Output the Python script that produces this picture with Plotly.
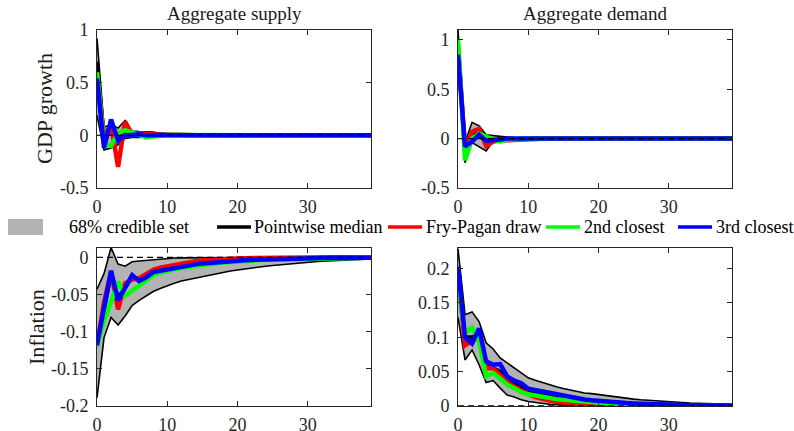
import plotly.graph_objects as go

W, H = 794, 431
horizon = list(range(40))

# ---------------- GDP growth, Aggregate supply ----------------
gdp_as_lower = [0.19, -0.14, -0.12, -0.09, -0.03, -0.02, -0.02, -0.015, -0.01, -0.008,
                -0.006, -0.005, -0.004, -0.003, -0.003, -0.002, -0.002, -0.002, -0.001, -0.001,
                -0.001, -0.001, -0.001, -0.001, 0.0, 0.0, 0.0, 0.0, 0.0, 0.0,
                0.0, 0.0, 0.0, 0.0, 0.0, 0.0, 0.0, 0.0, 0.0, 0.0]
gdp_as_upper = [0.92, 0.08, 0.10, 0.07, 0.14, 0.04, 0.035, 0.035, 0.03, 0.02,
                0.015, 0.012, 0.01, 0.008, 0.007, 0.006, 0.005, 0.004, 0.004, 0.003,
                0.003, 0.003, 0.002, 0.002, 0.002, 0.002, 0.002, 0.001, 0.001, 0.001,
                0.001, 0.001, 0.001, 0.001, 0.001, 0.001, 0.001, 0.001, 0.001, 0.001]
gdp_as_median = [0.70, -0.05, 0.06, -0.01, 0.05, 0.02, 0.01, 0.01, 0.008, 0.005,
                 0.004, 0.003, 0.002, 0.002, 0.001, 0.001, 0.001, 0.001, 0.0, 0.0,
                 0.0, 0.0, 0.0, 0.0, 0.0, 0.0, 0.0, 0.0, 0.0, 0.0,
                 0.0, 0.0, 0.0, 0.0, 0.0, 0.0, 0.0, 0.0, 0.0, 0.0]
gdp_as_fp = [0.57, -0.02, 0.10, -0.30, 0.13, 0.0, 0.02, 0.01, 0.01, 0.005,
             0.002, 0.001, 0.001, 0.0, 0.0, 0.0, 0.0, 0.0, 0.0, 0.0,
             0.0, 0.0, 0.0, 0.0, 0.0, 0.0, 0.0, 0.0, 0.0, 0.0,
             0.0, 0.0, 0.0, 0.0, 0.0, 0.0, 0.0, 0.0, 0.0, 0.0]
gdp_as_2nd = [0.60, -0.08, -0.10, 0.02, 0.05, 0.03, 0.0, -0.02, -0.01, 0.0,
              0.003, 0.002, 0.001, 0.001, 0.0, 0.0, 0.0, 0.0, 0.0, 0.0,
              0.0, 0.0, 0.0, 0.0, 0.0, 0.0, 0.0, 0.0, 0.0, 0.0,
              0.0, 0.0, 0.0, 0.0, 0.0, 0.0, 0.0, 0.0, 0.0, 0.0]
gdp_as_3rd = [0.54, -0.12, 0.15, -0.05, 0.0, 0.01, 0.01, 0.0, 0.005, 0.002,
              0.001, 0.0, 0.0, 0.0, 0.0, 0.0, 0.0, 0.0, 0.0, 0.0,
              0.0, 0.0, 0.0, 0.0, 0.0, 0.0, 0.0, 0.0, 0.0, 0.0,
              0.0, 0.0, 0.0, 0.0, 0.0, 0.0, 0.0, 0.0, 0.0, 0.0]

# ---------------- GDP growth, Aggregate demand ----------------
gdp_ad_lower = [0.85, -0.245, -0.04, -0.08, -0.125, -0.025, -0.03, -0.02, -0.015, -0.01,
                -0.008, -0.006, -0.005, -0.004, -0.003, -0.002, -0.002, -0.001, -0.001, -0.001,
                0.0, 0.0, 0.0, 0.0, 0.0, 0.0, 0.0, 0.0, 0.0, 0.0,
                0.0, 0.0, 0.0, 0.0, 0.0, 0.0, 0.0, 0.0, 0.0, 0.0]
gdp_ad_upper = [1.10, -0.04, 0.165, 0.13, 0.04, 0.03, 0.02, 0.015, 0.01, 0.008,
                0.006, 0.005, 0.004, 0.003, 0.002, 0.002, 0.001, 0.001, 0.001, 0.001,
                0.0, 0.0, 0.0, 0.0, 0.0, 0.0, 0.0, 0.0, 0.0, 0.0,
                0.0, 0.0, 0.0, 0.0, 0.0, 0.0, 0.0, 0.0, 0.0, 0.0]
gdp_ad_median = [0.95, -0.12, 0.05, 0.04, -0.03, -0.01, -0.01, -0.005, -0.003, -0.002,
                 -0.001, -0.001, 0.0, 0.0, 0.0, 0.0, 0.0, 0.0, 0.0, 0.0,
                 0.0, 0.0, 0.0, 0.0, 0.0, 0.0, 0.0, 0.0, 0.0, 0.0,
                 0.0, 0.0, 0.0, 0.0, 0.0, 0.0, 0.0, 0.0, 0.0, 0.0]
gdp_ad_fp = [0.95, -0.12, 0.07, 0.10, -0.075, -0.03, -0.02, -0.015, -0.01, -0.005,
             -0.003, -0.002, -0.001, 0.0, 0.0, 0.0, 0.0, 0.0, 0.0, 0.0,
             0.0, 0.0, 0.0, 0.0, 0.0, 0.0, 0.0, 0.0, 0.0, 0.0,
             0.0, 0.0, 0.0, 0.0, 0.0, 0.0, 0.0, 0.0, 0.0, 0.0]
gdp_ad_2nd = [1.00, -0.22, 0.0, 0.05, 0.02, 0.0, -0.03, -0.01, -0.005, 0.0,
              0.0, 0.0, 0.0, 0.0, 0.0, 0.0, 0.0, 0.0, 0.0, 0.0,
              0.0, 0.0, 0.0, 0.0, 0.0, 0.0, 0.0, 0.0, 0.0, 0.0,
              0.0, 0.0, 0.0, 0.0, 0.0, 0.0, 0.0, 0.0, 0.0, 0.0]
gdp_ad_3rd = [0.85, -0.08, -0.03, 0.04, -0.02, -0.02, -0.01, 0.0, 0.0, 0.0,
              0.0, 0.0, 0.0, 0.0, 0.0, 0.0, 0.0, 0.0, 0.0, 0.0,
              0.0, 0.0, 0.0, 0.0, 0.0, 0.0, 0.0, 0.0, 0.0, 0.0,
              0.0, 0.0, 0.0, 0.0, 0.0, 0.0, 0.0, 0.0, 0.0, 0.0]

# ---------------- Inflation, Aggregate supply ----------------
infl_as_lower = [-0.189, -0.108, -0.081, -0.091, -0.079, -0.065, -0.058, -0.052, -0.046, -0.042,
                 -0.038, -0.035, -0.032, -0.030, -0.028, -0.026, -0.024, -0.022, -0.020, -0.0185,
                 -0.017, -0.0155, -0.014, -0.013, -0.012, -0.011, -0.010, -0.0091, -0.0082, -0.0073,
                 -0.0065, -0.0059, -0.0053, -0.0048, -0.0043, -0.0038, -0.0034, -0.0030, -0.0026, -0.0022]
infl_as_upper = [-0.043, -0.022, 0.013, -0.009, -0.012, -0.006, -0.005, -0.004, -0.003, -0.002,
                 -0.0015, -0.001, -0.0008, -0.0006, -0.0005, -0.0004, -0.0003, -0.0003, -0.0002, -0.0002,
                 -0.0002, -0.0001, -0.0001, -0.0001, -0.0001, -0.0001, 0.0, 0.0, 0.0, 0.0,
                 0.0, 0.0, 0.0, 0.0, 0.0, 0.0, 0.0, 0.0, 0.0, 0.0]
infl_as_median = [-0.118, -0.068, -0.022, -0.055, -0.040, -0.026, -0.031, -0.026, -0.020, -0.018,
                  -0.016, -0.014, -0.012, -0.011, -0.0095, -0.0085, -0.0075, -0.0066, -0.0058, -0.0051,
                  -0.0045, -0.004, -0.0035, -0.0031, -0.0027, -0.0024, -0.0021, -0.0019, -0.0017, -0.0015,
                  -0.0013, -0.0012, -0.0011, -0.001, -0.0009, -0.0008, -0.0007, -0.0007, -0.0006, -0.0006]
infl_as_fp = [-0.12, -0.06, -0.02, -0.07, -0.035, -0.030, -0.028, -0.022, -0.017, -0.014,
              -0.012, -0.010, -0.008, -0.0065, -0.0053, -0.0043, -0.0035, -0.0028, -0.0022, -0.0018,
              -0.0015, -0.0012, -0.001, -0.0008, -0.0006, -0.0005, -0.0004, -0.0003, -0.0002, -0.0002,
              -0.0001, -0.0001, -0.0001, 0.0, 0.0, 0.0, 0.0, 0.0, 0.0, 0.0]
infl_as_2nd = [-0.12, -0.085, -0.06, -0.033, -0.052, -0.045, -0.037, -0.030, -0.024, -0.021,
               -0.018, -0.016, -0.0145, -0.013, -0.0115, -0.0102, -0.009, -0.008, -0.007, -0.0062,
               -0.0055, -0.0049, -0.0043, -0.0038, -0.0034, -0.003, -0.0027, -0.0024, -0.0021, -0.0019,
               -0.0017, -0.0015, -0.0013, -0.0012, -0.0011, -0.001, -0.0009, -0.0008, -0.0007, -0.0007]
infl_as_3rd = [-0.118, -0.07, -0.018, -0.058, -0.042, -0.024, -0.032, -0.027, -0.020, -0.018,
               -0.016, -0.014, -0.012, -0.011, -0.0095, -0.0085, -0.0075, -0.0066, -0.0058, -0.0051,
               -0.0045, -0.004, -0.0035, -0.0031, -0.0027, -0.0024, -0.0021, -0.0019, -0.0017, -0.0015,
               -0.0013, -0.0012, -0.0011, -0.001, -0.0009, -0.0008, -0.0007, -0.0007, -0.0006, -0.0006]

# ---------------- Inflation, Aggregate demand ----------------
infl_ad_lower = [0.129, 0.067, 0.0815, 0.060, 0.034, 0.037, 0.026, 0.016, 0.013, 0.009,
                 0.0065, 0.005, 0.0035, 0.0025, 0.0018, 0.0012, 0.0008, 0.0005, 0.0003, 0.0002,
                 0.0001, 0.0, 0.0, 0.0, 0.0, 0.0, 0.0, 0.0, 0.0, 0.0,
                 0.0, 0.0, 0.0, 0.0, 0.0, 0.0, 0.0, 0.0, 0.0, 0.0]
infl_ad_upper = [0.229, 0.133, 0.137, 0.123, 0.092, 0.083, 0.070, 0.063, 0.0556, 0.048,
                 0.041, 0.0375, 0.034, 0.031, 0.028, 0.0255, 0.023, 0.021, 0.019, 0.018,
                 0.0165, 0.015, 0.0135, 0.012, 0.011, 0.010, 0.009, 0.0082, 0.0074, 0.0067,
                 0.006, 0.0054, 0.0049, 0.0044, 0.004, 0.0036, 0.0032, 0.0029, 0.0026, 0.0023]
infl_ad_median = [0.19, 0.10, 0.10, 0.105, 0.058, 0.055, 0.050, 0.038, 0.032, 0.027,
                  0.022, 0.019, 0.017, 0.015, 0.013, 0.0115, 0.010, 0.0088, 0.0077, 0.0067,
                  0.0058, 0.005, 0.0044, 0.0038, 0.0033, 0.0029, 0.0025, 0.0022, 0.0019, 0.0017,
                  0.0015, 0.0013, 0.0011, 0.001, 0.0009, 0.0008, 0.0007, 0.0006, 0.0005, 0.0005]
infl_ad_fp = [0.200, 0.088, 0.095, 0.100, 0.055, 0.055, 0.045, 0.035, 0.028, 0.022,
              0.017, 0.013, 0.010, 0.0078, 0.006, 0.0046, 0.0035, 0.0027, 0.002, 0.0015,
              0.0011, 0.0008, 0.0006, 0.0005, 0.0004, 0.0003, 0.0002, 0.0002, 0.0001, 0.0001,
              0.0001, 0.0, 0.0, 0.0, 0.0, 0.0, 0.0, 0.0, 0.0, 0.0]
infl_ad_2nd = [0.178, 0.106, 0.114, 0.094, 0.043, 0.048, 0.040, 0.031, 0.026, 0.020,
               0.017, 0.015, 0.013, 0.0115, 0.010, 0.009, 0.008, 0.007, 0.006, 0.0052,
               0.0045, 0.0039, 0.0034, 0.0029, 0.0025, 0.0022, 0.0019, 0.0016, 0.0014, 0.0012,
               0.001, 0.0009, 0.0008, 0.0007, 0.0006, 0.0005, 0.0005, 0.0004, 0.0004, 0.0003]
infl_ad_3rd = [0.203, 0.100, 0.091, 0.113, 0.065, 0.060, 0.061, 0.043, 0.037, 0.033,
               0.025, 0.023, 0.021, 0.019, 0.0165, 0.0145, 0.0127, 0.011, 0.0095, 0.0083,
               0.0072, 0.0063, 0.0055, 0.0048, 0.0042, 0.0037, 0.0032, 0.0028, 0.0024, 0.0021,
               0.0018, 0.0016, 0.0014, 0.0012, 0.0011, 0.001, 0.0009, 0.0008, 0.0007, 0.0006]

panel_titles = ["Aggregate supply", "Aggregate demand"]
row_labels = ["GDP growth", "Inflation"]
legend_labels = ["68% credible set", "Pointwise median", "Fry-Pagan draw", "2nd closest", "3rd closest"]
x_ticks = [0, 10, 20, 30]
y_ticks_gdp = [-0.5, 0, 0.5, 1]
y_ticklabels_gdp = ["-0.5", "0", "0.5", "1"]
y_ticks_infl_as = [-0.2, -0.15, -0.1, -0.05, 0]
y_ticklabels_infl_as = ["-0.2", "-0.15", "-0.1", "-0.05", "0"]
y_ticks_infl_ad = [0, 0.05, 0.1, 0.15, 0.2]
y_ticklabels_infl_ad = ["0", "0.05", "0.1", "0.15", "0.2"]

FONT = "Liberation Serif, Times New Roman, serif"
AXC = "#262626"
BAND = "#b3b3b3"
COLORS = {"median": "#000000", "fp": "#ff0000", "2nd": "#00ff00", "3rd": "#0000ff"}

panels = [
    dict(xa="x", ya="y", lower=gdp_as_lower, upper=gdp_as_upper, median=gdp_as_median,
         fp=gdp_as_fp, s2=gdp_as_2nd, s3=gdp_as_3rd),
    dict(xa="x2", ya="y2", lower=gdp_ad_lower, upper=gdp_ad_upper, median=gdp_ad_median,
         fp=gdp_ad_fp, s2=gdp_ad_2nd, s3=gdp_ad_3rd),
    dict(xa="x3", ya="y3", lower=infl_as_lower, upper=infl_as_upper, median=infl_as_median,
         fp=infl_as_fp, s2=infl_as_2nd, s3=infl_as_3rd),
    dict(xa="x4", ya="y4", lower=infl_ad_lower, upper=infl_ad_upper, median=infl_ad_median,
         fp=infl_ad_fp, s2=infl_ad_2nd, s3=infl_ad_3rd),
]

fig = go.Figure()
for p in panels:
    for arr in (p["lower"], p["upper"], p["median"], p["fp"], p["s2"], p["s3"]):
        assert len(arr) == len(horizon)
    common = dict(x=horizon, xaxis=p["xa"], yaxis=p["ya"], mode="lines",
                  showlegend=False, hoverinfo="skip")
    fig.add_trace(go.Scatter(y=p["lower"], line=dict(color="black", width=1.6), **common))
    fig.add_trace(go.Scatter(y=p["upper"], line=dict(color="black", width=1.6),
                             fill="tonexty", fillcolor=BAND, **common))
    fig.add_trace(go.Scatter(y=p["median"], line=dict(color=COLORS["median"], width=4), **common))
    fig.add_trace(go.Scatter(y=p["fp"], line=dict(color=COLORS["fp"], width=4.5), **common))
    fig.add_trace(go.Scatter(y=p["s2"], line=dict(color=COLORS["2nd"], width=4.5), **common))
    fig.add_trace(go.Scatter(y=p["s3"], line=dict(color=COLORS["3rd"], width=4.5), **common))
    fig.add_trace(go.Scatter(y=[0 for _ in horizon], line=dict(color="black", width=1.3, dash="6px,4px"),
                             **common))

def px_x(v):
    return v / W

def px_y(v):
    return 1 - v / H

xd_left = [px_x(97), px_x(371)]
xd_right = [px_x(458), px_x(732)]
yd_top = [px_y(188), px_y(30)]
yd_bot = [px_y(406), px_y(248)]

def xaxis(domain, anchor):
    return dict(domain=domain, anchor=anchor, range=[0, 39], tickvals=x_ticks,
                ticktext=[str(t) for t in x_ticks], automargin=False,
                showline=True, linecolor=AXC, linewidth=1, mirror="ticks",
                ticks="inside", ticklen=5, tickwidth=1, tickcolor=AXC,
                showgrid=False, zeroline=False, ticklabelstandoff=2,
                tickfont=dict(family=FONT, size=18, color=AXC))

def yaxis(domain, anchor, rng, vals, txt):
    return dict(domain=domain, anchor=anchor, range=rng, tickvals=vals, ticktext=txt,
                automargin=False,
                showline=True, linecolor=AXC, linewidth=1, mirror="ticks",
                ticks="inside", ticklen=5, tickwidth=1, tickcolor=AXC,
                showgrid=False, zeroline=False, ticklabelstandoff=4,
                tickfont=dict(family=FONT, size=18, color=AXC))

fig.update_layout(
    template="none",
    width=W, height=H, autosize=False,
    margin=dict(l=0, r=0, t=0, b=0, pad=0, autoexpand=False),
    paper_bgcolor="white", plot_bgcolor="white",
    showlegend=False,
    xaxis=xaxis(xd_left, "y"),
    xaxis2=xaxis(xd_right, "y2"),
    xaxis3=xaxis(xd_left, "y3"),
    xaxis4=xaxis(xd_right, "y4"),
    yaxis=yaxis(yd_top, "x", [-0.5, 1.0], y_ticks_gdp, y_ticklabels_gdp),
    yaxis2=yaxis(yd_top, "x2", [-0.5, 1.1], y_ticks_gdp, y_ticklabels_gdp),
    yaxis3=yaxis(yd_bot, "x3", [-0.2, 0.0125], y_ticks_infl_as, y_ticklabels_infl_as),
    yaxis4=yaxis(yd_bot, "x4", [0, 0.23], y_ticks_infl_ad, y_ticklabels_infl_ad),
)

annotations = []
# panel titles
for title, dom in zip(panel_titles, [xd_left, xd_right]):
    annotations.append(dict(text=title, xref="paper", yref="paper",
                            x=(dom[0] + dom[1]) / 2, y=px_y(14), xanchor="center", yanchor="middle",
                            showarrow=False, font=dict(family=FONT, size=19, color="#1a1a1a")))
# row labels
for label, xc, yc in zip(row_labels, [44, 36], [109, 327]):
    annotations.append(dict(text=label, xref="paper", yref="paper", x=px_x(xc), y=px_y(yc),
                            xanchor="center", yanchor="middle", textangle=-90, showarrow=False,
                            font=dict(family=FONT, size=22, color="#1a1a1a")))

# legend (manual, MATLAB-style)
leg_y = 227
shapes = [dict(type="rect", xref="paper", yref="paper", x0=px_x(8), x1=px_x(43),
               y0=px_y(235), y1=px_y(219), fillcolor=BAND, line=dict(width=0))]
leg_lines = [(217, 251, COLORS["median"]), (388, 422, COLORS["fp"]),
             (546, 580, COLORS["2nd"]), (678, 712, COLORS["3rd"])]
for x0, x1, c in leg_lines:
    shapes.append(dict(type="line", xref="paper", yref="paper", x0=px_x(x0), x1=px_x(x1),
                       y0=px_y(leg_y), y1=px_y(leg_y), line=dict(color=c, width=3.5)))
text_x = [67, 252, 424, 582, 714]
for lab, tx in zip(legend_labels, text_x):
    annotations.append(dict(text=lab, xref="paper", yref="paper", x=px_x(tx), y=px_y(leg_y),
                            xanchor="left", yanchor="middle", showarrow=False,
                            font=dict(family=FONT, size=18, color="black")))

fig.update_layout(annotations=annotations, shapes=shapes)
fig.write_html("out.html", config={"displayModeBar": False},
               post_script="document.body.style.margin='0px';document.body.style.overflow='hidden';")
